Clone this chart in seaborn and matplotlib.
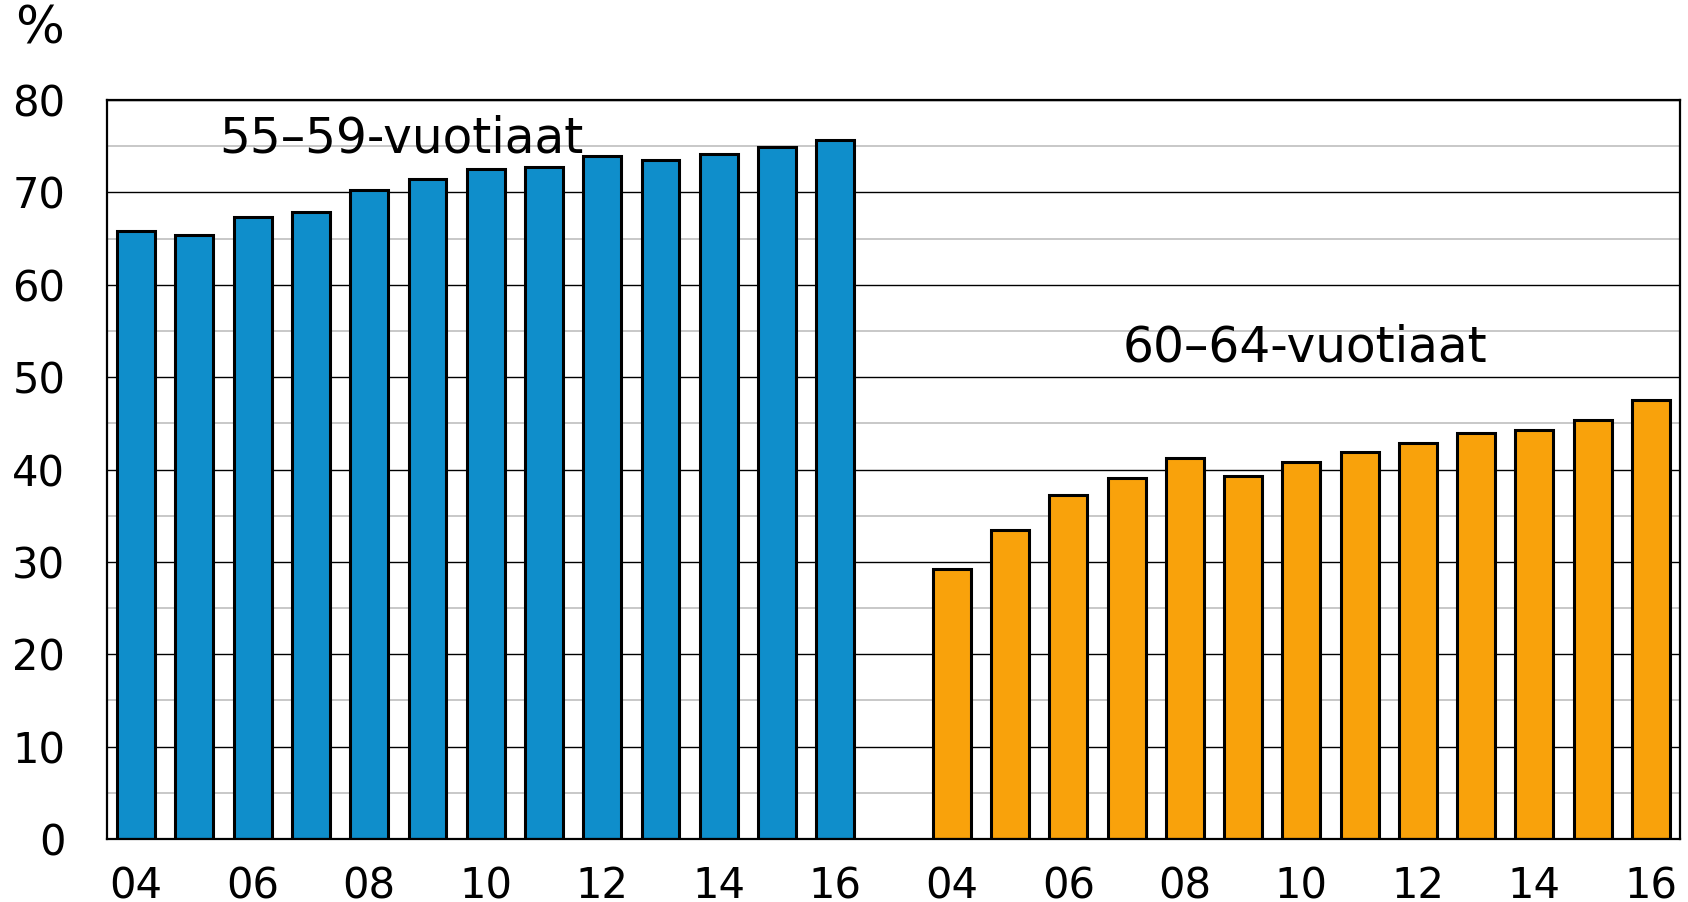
import pandas as pd
import seaborn as sns
import matplotlib
import matplotlib.pyplot as plt
from matplotlib.ticker import MultipleLocator

matplotlib.use("Agg")

# Data
YEARS = ["04", "05", "06", "07", "08", "09", "10", "11", "12", "13", "14", "15", "16"]
AGE_55_59 = [65.8, 65.4, 67.3, 67.9, 70.3, 71.4, 72.5, 72.8, 73.9, 73.5, 74.2, 74.9, 75.7]
AGE_60_64 = [29.2, 33.5, 37.2, 39.1, 41.2, 39.3, 40.8, 41.9, 42.9, 44.0, 44.3, 45.4, 47.5]
GROUP_LABELS = ["55–59-vuotiaat", "60–64-vuotiaat"]
COLORS = {"55–59-vuotiaat": "#0f8ecb", "60–64-vuotiaat": "#f9a20b"}

sns.set_theme(style="white")
plt.rcParams["font.family"] = ["DejaVu Sans"]
plt.rcParams["text.color"] = "black"
plt.rcParams["xtick.color"] = "black"
plt.rcParams["ytick.color"] = "black"

# Build a long table; one empty slot separates the two age groups
rows = []
for y, v in zip(YEARS, AGE_55_59):
    rows.append({"slot": "a" + y, "value": v, "group": GROUP_LABELS[0]})
for y, v in zip(YEARS, AGE_60_64):
    rows.append({"slot": "b" + y, "value": v, "group": GROUP_LABELS[1]})
df = pd.DataFrame(rows)
order = ["a" + y for y in YEARS] + ["gap"] + ["b" + y for y in YEARS]

fig = plt.figure(figsize=(16.88, 9.02), dpi=100)
ax = fig.add_axes([0.0634, 0.0698, 0.9319, 0.8193])

sns.barplot(
    data=df, x="slot", y="value", hue="group", order=order,
    palette=COLORS, saturation=1, width=0.65, dodge=False, edgecolor="black",
    linewidth=2.2, legend=False, ax=ax, zorder=3,
)

ax.set_xlim(-0.5, len(order) - 0.5)
ax.set_ylim(0, 80)
ax.yaxis.set_major_locator(MultipleLocator(10))
ax.yaxis.set_minor_locator(MultipleLocator(5))
ax.grid(which="major", axis="y", color="black", linewidth=1.0, zorder=0)
ax.grid(which="minor", axis="y", color="#c8c8c8", linewidth=1.4, zorder=0)
ax.set_axisbelow(True)

tick_pos = [i for i, s in enumerate(order) if s != "gap" and int(s[1:]) % 2 == 0]
ax.set_xticks(tick_pos)
ax.set_xticklabels([order[i][1:] for i in tick_pos])
ax.tick_params(axis="x", length=0, pad=19, labelsize=30)
ax.tick_params(axis="y", which="both", length=0, pad=30, labelsize=30)
ax.set_xlabel("")
ax.set_ylabel("")

for sp in ax.spines.values():
    sp.set_color("black")
    sp.set_linewidth(1.6)
    sp.set_zorder(5)

ax.text(1.42, 74.3, GROUP_LABELS[0], fontsize=35, va="baseline", ha="left", zorder=4)
ax.text(16.93, 51.7, GROUP_LABELS[1], fontsize=35, va="baseline", ha="left", zorder=4)
fig.text(0.009, 0.952, "%", fontsize=37, va="baseline", ha="left")

plt.savefig("out.png", dpi=100)
plt.close()
